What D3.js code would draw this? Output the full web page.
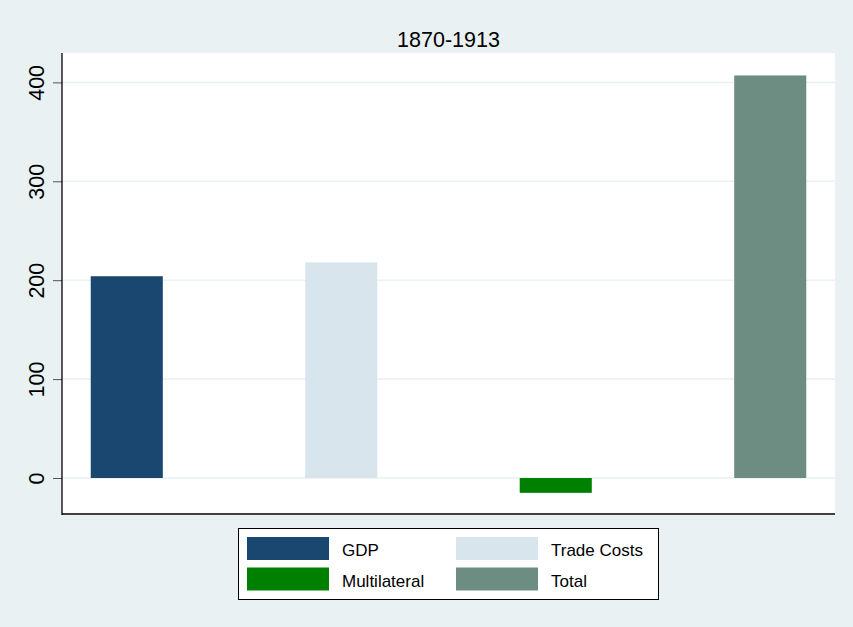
<!DOCTYPE html>
<html>
<head>
<meta charset="utf-8">
<script src="https://cdn.jsdelivr.net/npm/d3@7"></script>
<style>
  html, body { margin: 0; padding: 0; background: #e9f1f3; }
  svg { display: block; font-family: "Liberation Sans", Arial, sans-serif; }
</style>
</head>
<body>
<svg id="chart" width="853" height="627"></svg>
<script>
// data
const categories = ["GDP", "Trade Costs", "Multilateral", "Total"];
const values     = [204, 218, -15, 407];
const colours    = ["#1a476f", "#d9e5ec", "#008000", "#6e8d82"];
const yTicks     = [0, 100, 200, 300, 400];
const title      = "1870-1913";

const svg = d3.select("#chart");

// plot region
const plotL = 62, plotR = 835, plotT = 53, plotB = 514;

svg.append("rect")
    .attr("width", 853).attr("height", 627)
    .attr("fill", "#e9f1f3");

svg.append("rect")
    .attr("x", plotL).attr("y", plotT)
    .attr("width", plotR - plotL).attr("height", plotB - plotT + 1)
    .attr("fill", "#fff");

// scales
const x = d3.scaleBand()
    .domain(categories)
    .range([plotL, plotR])
    .paddingInner(0.664)
    .paddingOuter(0.134);

const y = d3.scaleLinear()
    .domain([-36.4, 429.7])
    .range([plotB, plotT]);

// gridlines
svg.append("g")
    .selectAll("line")
    .data(yTicks)
    .join("line")
    .attr("x1", plotL).attr("x2", plotR)
    .attr("y1", d => y(d)).attr("y2", d => y(d))
    .attr("stroke", "#e9f1f3")
    .attr("stroke-width", 1.5);

// bars
svg.append("g")
    .selectAll("rect")
    .data(categories)
    .join("rect")
    .attr("x", d => x(d))
    .attr("width", x.bandwidth())
    .attr("y", (d, i) => y(Math.max(0, values[i])))
    .attr("height", (d, i) => Math.abs(y(values[i]) - y(0)))
    .attr("fill", (d, i) => colours[i]);

// y axis
const yAxis = d3.axisLeft(y)
    .tickValues(yTicks)
    .tickSize(9)
    .tickPadding(0)
    .tickFormat(d3.format("d"));

const ag = svg.append("g")
    .attr("transform", `translate(${plotL},0)`)
    .call(yAxis);
ag.select(".domain").remove();
ag.selectAll(".tick line").attr("stroke", "#555");
ag.selectAll(".tick text").remove();
ag.selectAll(".tick").append("text")
    .attr("transform", "translate(-25.5,0) rotate(-90)")
    .attr("text-anchor", "middle")
    .attr("dy", "0.36em")
    .attr("fill", "#000")
    .attr("font-size", "21.5px")
    .text(d => d);

// axis lines (left and bottom only)
svg.append("line")
    .attr("x1", plotL).attr("x2", plotL)
    .attr("y1", plotT).attr("y2", plotB + 1)
    .attr("stroke", "#000").attr("stroke-width", 1.3);
svg.append("line")
    .attr("x1", plotL).attr("x2", plotR)
    .attr("y1", plotB).attr("y2", plotB)
    .attr("stroke", "#000").attr("stroke-width", 1.3);

// title
svg.append("text")
    .attr("x", (plotL + plotR) / 2)
    .attr("y", 47)
    .attr("text-anchor", "middle")
    .attr("font-size", "21.5px")
    .attr("fill", "#000")
    .text(title);

// legend
const lg = svg.append("g");
lg.append("rect")
    .attr("x", 238.5).attr("y", 528.5)
    .attr("width", 420).attr("height", 71)
    .attr("fill", "#fff")
    .attr("stroke", "#000").attr("stroke-width", 1);

const items = lg.selectAll("g.item")
    .data(categories)
    .join("g")
    .attr("class", "item")
    .attr("transform", (d, i) => `translate(${247 + (i % 2) * 209},${537 + Math.floor(i / 2) * 30.5})`);

items.append("rect")
    .attr("width", 82).attr("height", 23)
    .attr("fill", (d, i) => colours[i]);

items.append("text")
    .attr("x", 95)
    .attr("y", 13)
    .attr("dy", "0.36em")
    .attr("font-size", "17px")
    .attr("fill", "#000")
    .text(d => d);
</script>
</body>
</html>
